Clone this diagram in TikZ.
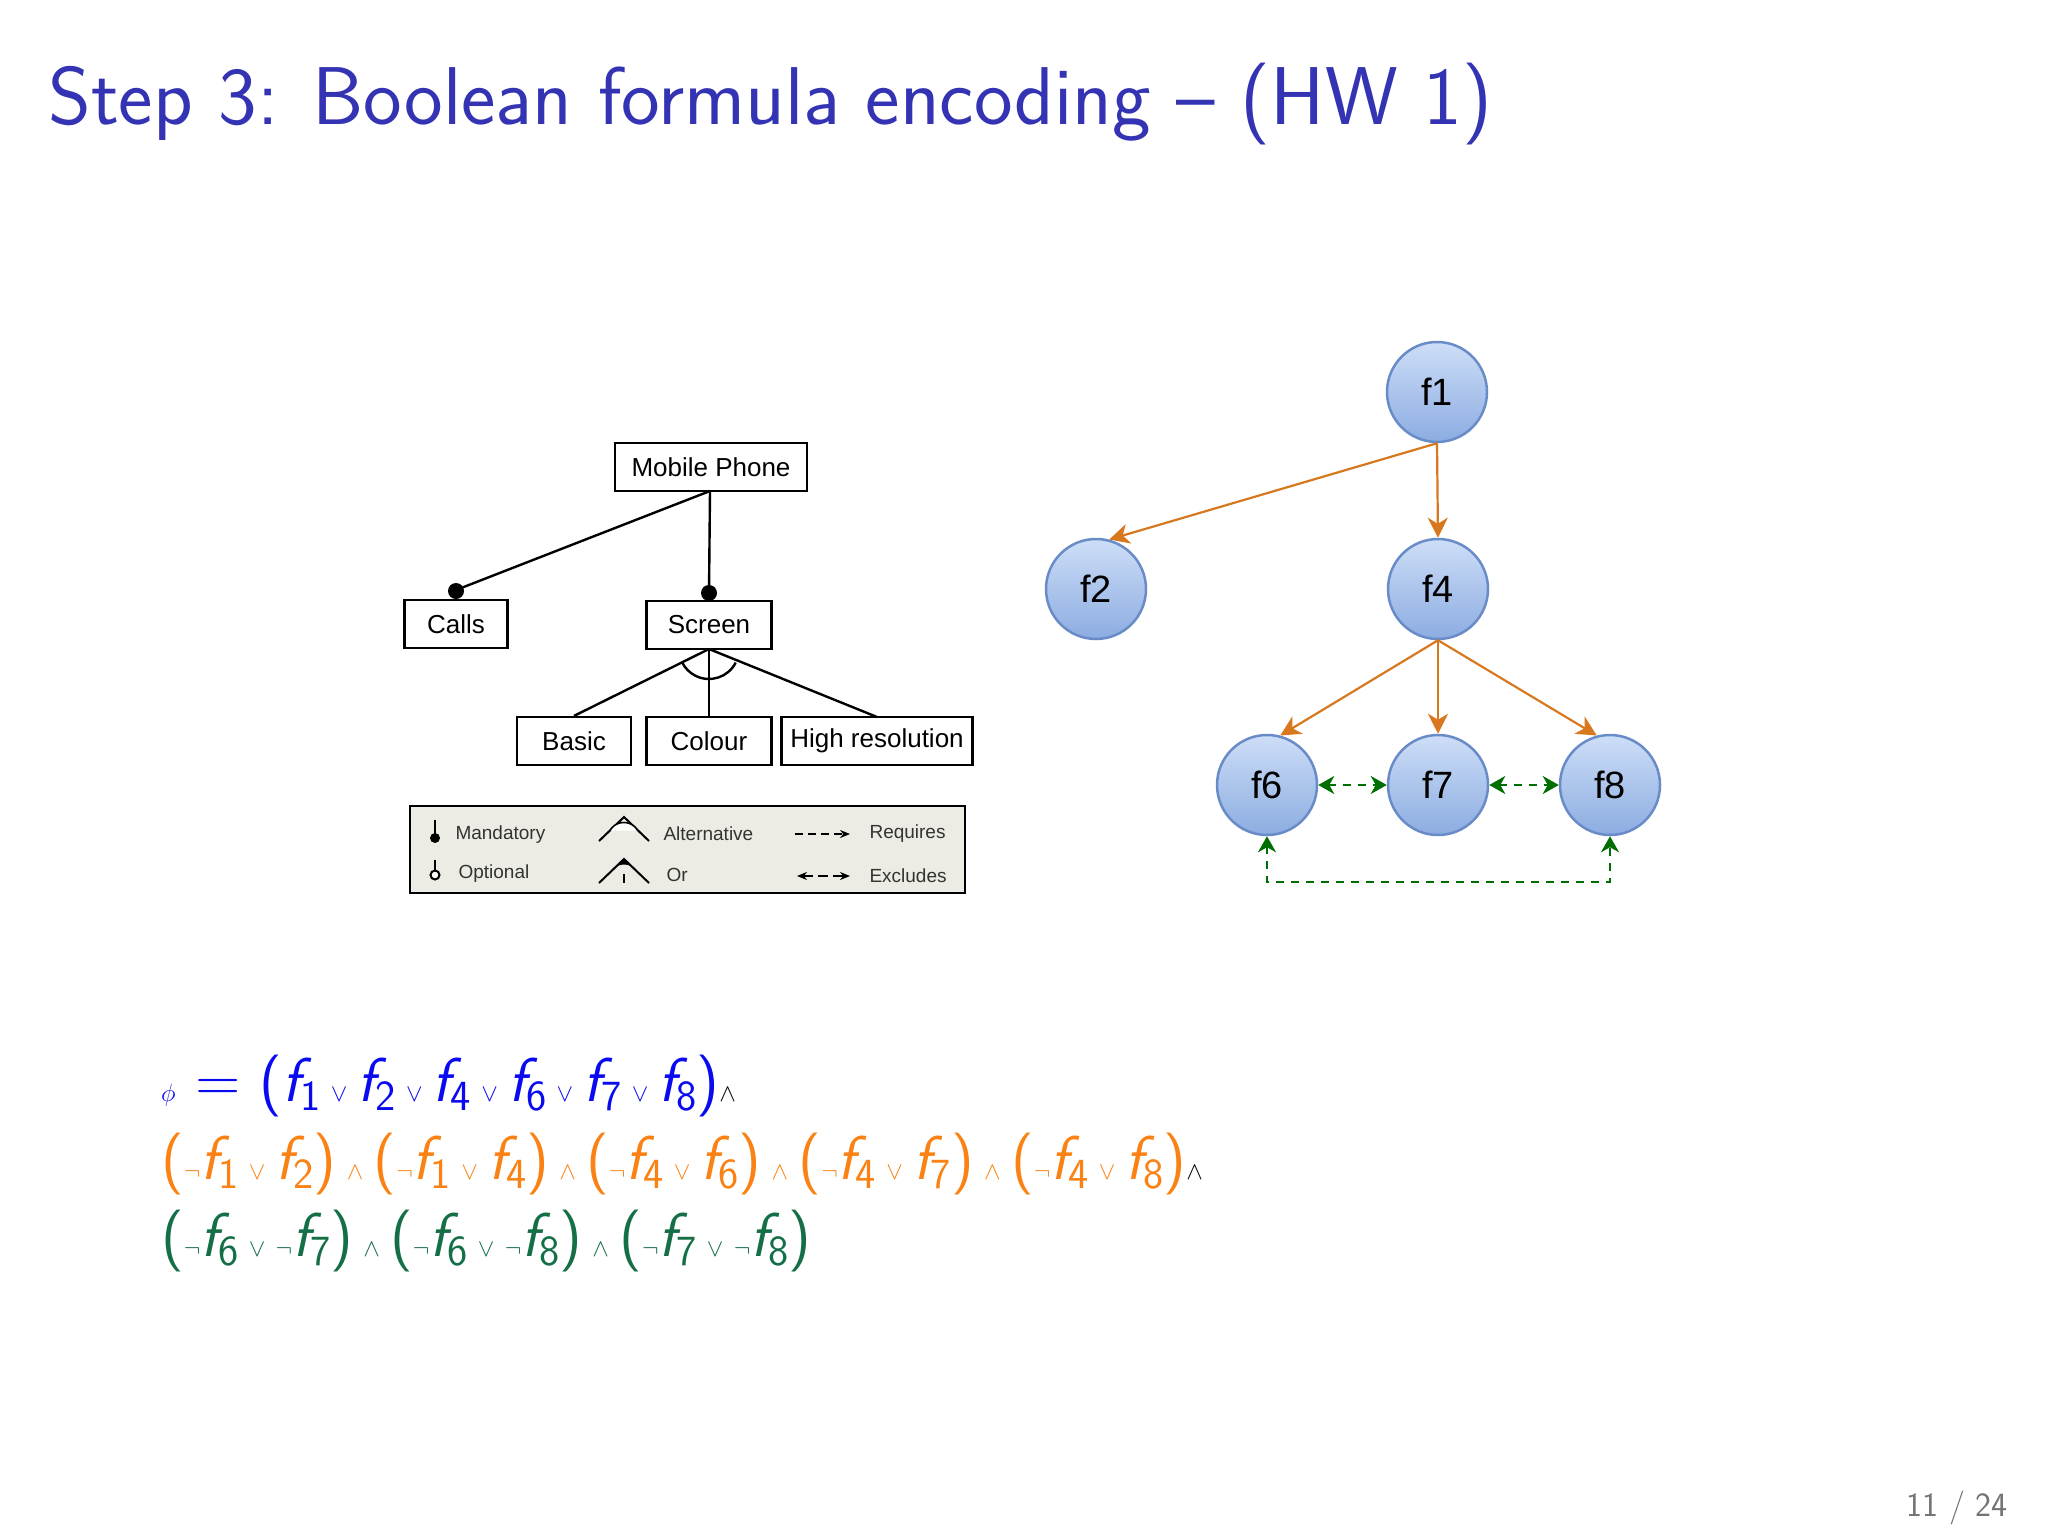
\documentclass[tikz,border=0pt]{standalone}
\usepackage{fontspec}
\newfontfamily\arial{Liberation Sans}
\usetikzlibrary{arrows.meta}
\DeclareMathSizes{62}{62}{43}{33}
\definecolor{titleblue}{RGB}{51,51,179}
\definecolor{fblue}{RGB}{10,10,240}
\definecolor{forange}{RGB}{250,130,20}
\definecolor{fgreen}{RGB}{20,110,70}
\definecolor{arrorange}{RGB}{215,120,30}
\definecolor{dgreen}{RGB}{0,110,0}
\definecolor{circb}{RGB}{105,140,200}
\definecolor{circt}{RGB}{205,222,247}
\definecolor{circbot}{RGB}{140,172,225}
\definecolor{legbg}{RGB}{236,236,228}
\newcommand\fv[1]{{\itshape f}\raisebox{-9pt}{\fontsize{43}{45}\selectfont #1}}
\newcommand\OR{\,$\vee$\,}
\newcommand\AND{\,$\wedge$\,}
\newcommand\NOT{$\neg$}
\tikzset{
  fbox/.style={draw,line width=2.2pt,minimum height=48pt,inner sep=0pt,font=\arial\fontsize{26}{28}\selectfont},
  fcirc/.style={circle,draw=circb,line width=2.5pt,minimum size=100pt,top color=circt,bottom color=circbot,font=\arial\fontsize{38}{40}\selectfont},
  tree/.style={line width=2.4pt},
  oarr/.style={draw=arrorange,line width=2.2pt,-{Stealth[length=20pt,width=20pt,inset=6pt]}},
  garr/.style={draw=dgreen,line width=2.4pt,dashed,dash pattern=on 8pt off 7pt,{Stealth[length=16pt,width=18pt,inset=5pt]}-{Stealth[length=16pt,width=18pt,inset=5pt]}},
  legtxt/.style={anchor=west,font=\arial\fontsize{19}{21}\selectfont,text=black!80},
  formula/.style={anchor=base west,inner sep=0pt,font=\sffamily\fontsize{62}{70}\selectfont}
}
\begin{document}
\begin{tikzpicture}[x=1pt,y=-1pt]
\useasboundingbox (0,0) rectangle (2048,1536);
\node[anchor=base west,inner sep=0pt,text=titleblue,font=\sffamily\fontsize{82}{90}\selectfont] (title) at (48,125) {Step 3: Boolean formula encoding -- (HW 1)};
% feature model
\node[fbox,minimum width=192pt] (mp) at (711,467) {Mobile Phone};
\node[fbox,minimum width=103pt] (calls) at (456,624) {Calls};
\node[fbox,minimum width=125pt] (scr) at (709,625) {Screen};
\node[fbox,minimum width=114pt] (basic) at (574,741) {Basic};
\node[fbox,minimum width=125pt] (col) at (709,741) {Colour};
\node[fbox,minimum width=191pt] (hr) at (877,741) {High resolution};
\coordinate (mpb) at (710,491);
\draw[tree] (mpb) -- (456,590);
\draw[tree] (mpb) -- (709,593);
\fill (456,591) circle (8);
\fill (709,593) circle (8);
\coordinate (sb) at (709,649);
\draw[tree] (sb) -- (basic.north);
\draw[tree] (sb) -- (col.north);
\draw[tree] (sb) -- (877,717);
\draw[tree] (735.7,662.6) arc[start angle=27,end angle=153,radius=30];
% legend
\node[draw,line width=2pt,fill=legbg,minimum width=555pt,minimum height=87pt,inner sep=0pt] (leg) at (687.5,849.5) {};
\draw[line width=2pt] (435,820) -- (435,836); \fill (435,838) circle (5);
\node[legtxt] (l1) at (452,835) {Mandatory};
\draw[line width=2pt] (435,860) -- (435,870); \draw[line width=2pt,fill=white] (435,875) circle (4.5);
\node[legtxt] (l2) at (455,874) {Optional};
\draw[line width=2pt] (599,841) -- (624,817) -- (649,841);
\draw[line width=1.5pt,fill=white] (610,830.5) arc[start angle=-150,end angle=-30,radius=16];
\node[legtxt] (l3) at (660,834) {Alternative};
\draw[line width=2pt] (599,883) -- (624,859) -- (649,883);
\fill (610,872.5) -- (624,859) -- (638,872.5) arc[start angle=-30,end angle=-150,radius=16];
\draw[line width=1.5pt] (624,874) -- (624,883);
\node[legtxt] (l4) at (663,875) {Or};
\draw[line width=2pt,dashed,dash pattern=on 8pt off 5pt,-{Stealth[length=10pt,width=8pt]}] (795,834) -- (850,834);
\node[legtxt] (l5) at (866,834) {Requires};
\draw[line width=2pt,{Stealth[length=10pt,width=8pt]}-{Stealth[length=10pt,width=8pt]},dashed,dash pattern=on 10pt off 5pt] (797,876) -- (850,876);
\node[legtxt] (l6) at (866,876) {Excludes};
% graph
\node[fcirc] (f1) at (1437,392) {f1};
\node[fcirc] (f2) at (1096,589) {f2};
\node[fcirc] (f4) at (1438,589) {f4};
\node[fcirc] (f6) at (1267,785) {f6};
\node[fcirc] (f7) at (1438,785) {f7};
\node[fcirc] (f8) at (1610,785) {f8};
\draw[oarr] (f1.south) -- (f2.75);
\draw[oarr] (f1.south) -- (f4.north);
\draw[oarr] (f4.south) -- (f6.75);
\draw[oarr] (f4.south) -- (f7.north);
\draw[oarr] (f4.south) -- (f8.105);
\draw[garr] (f6.east) -- (f7.west);
\draw[garr] (f7.east) -- (f8.west);
\draw[garr] (f6.south) -- (1267,882) -- (1610,882) -- (f8.south);
% formula
\node[formula,text=fblue] (phi1) at (161,1101) {$\phi$ = (\fv1\OR\fv2\OR\fv4\OR\fv6\OR\fv7\OR\fv8)\textcolor{black}{$\wedge$}};
\node[formula,text=forange] (phi2) at (161,1179) {(\NOT\fv1\OR\fv2)\AND(\NOT\fv1\OR\fv4)\AND(\NOT\fv4\OR\fv6)\AND(\NOT\fv4\OR\fv7)\AND(\NOT\fv4\OR\fv8)\textcolor{black}{$\wedge$}};
\node[formula,text=fgreen] (phi3) at (161,1256) {(\NOT\fv6\OR\NOT\fv7)\AND(\NOT\fv6\OR\NOT\fv8)\AND(\NOT\fv7\OR\NOT\fv8)};
\node[anchor=base east,inner sep=0pt,text=black!55,font=\sffamily\fontsize{34}{36}\selectfont] (pg) at (2008,1516) {11 / 24};
\end{tikzpicture}
\end{document}
